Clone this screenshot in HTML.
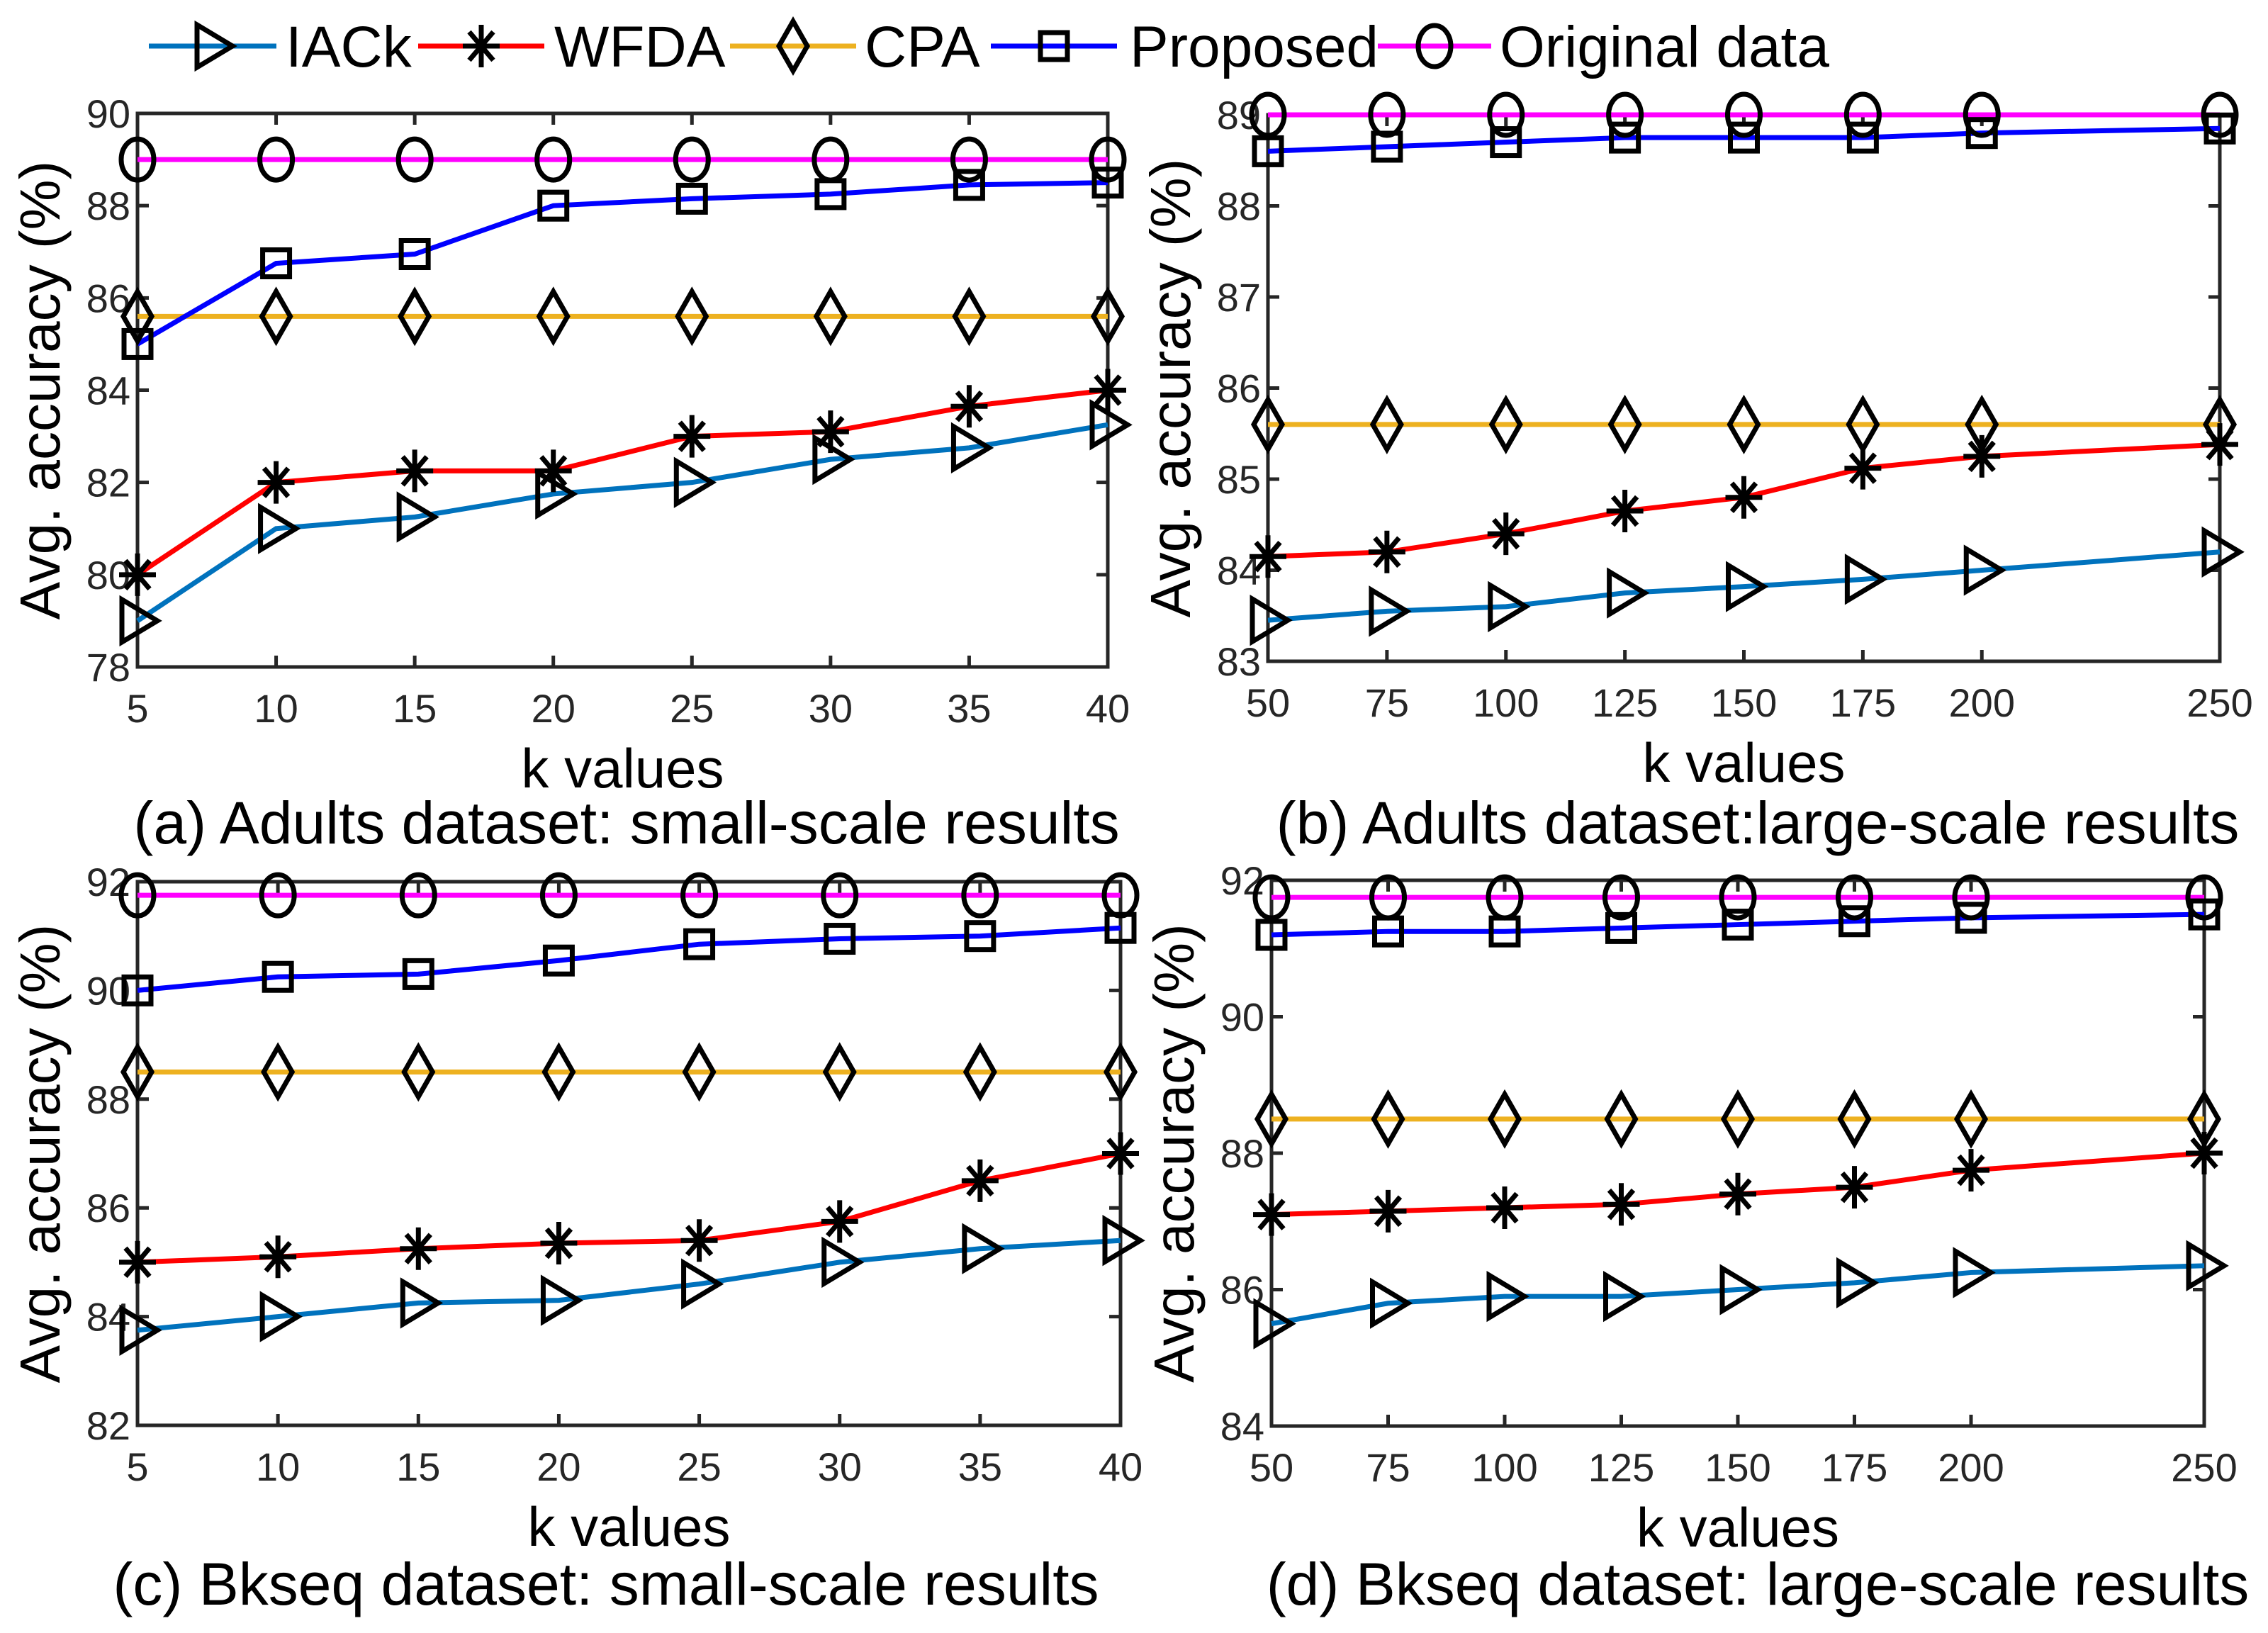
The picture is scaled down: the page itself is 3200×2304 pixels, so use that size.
<!DOCTYPE html>
<html><head><meta charset="utf-8"><style>
html,body{margin:0;padding:0;background:#fff}
svg{display:block}
text{font-family:"Liberation Sans",sans-serif}
</style></head><body>
<svg id="fig" width="3200" height="2304" viewBox="0 0 3200 2304" xmlns="http://www.w3.org/2000/svg">
<g id="legend"></g>
</svg>
<script>
// ---- data ----
const seriesNames = ["IACk","WFDA","CPA","Proposed","Original data"];
const kSmall = [5,10,15,20,25,30,35,40];
const kLarge = [50,75,100,125,150,175,200,250];
const aIACk = [79,81,81.25,81.75,82,82.5,82.75,83.25];
const aWFDA = [80,82,82.25,82.25,83,83.1,83.65,84];
const aCPA = [85.6,85.6,85.6,85.6,85.6,85.6,85.6,85.6];
const aProp = [85,86.75,86.95,88,88.15,88.25,88.45,88.5];
const aOrig = [89,89,89,89,89,89,89,89];
const bIACk = [83.45,83.55,83.6,83.75,83.82,83.9,84.0,84.2];
const bWFDA = [84.15,84.2,84.4,84.65,84.8,85.12,85.25,85.38];
const bCPA = [85.6,85.6,85.6,85.6,85.6,85.6,85.6,85.6];
const bProp = [88.6,88.65,88.7,88.75,88.75,88.75,88.8,88.85];
const bOrig = [89,89,89,89,89,89,89,89];
const cIACk = [83.75,84,84.25,84.3,84.6,85,85.25,85.4];
const cWFDA = [85,85.1,85.25,85.35,85.4,85.75,86.5,87];
const cCPA = [88.5,88.5,88.5,88.5,88.5,88.5,88.5,88.5];
const cProp = [90,90.25,90.3,90.55,90.85,90.95,91,91.15];
const cOrig = [91.75,91.75,91.75,91.75,91.75,91.75,91.75,91.75];
const dIACk = [85.5,85.8,85.9,85.9,86,86.1,86.25,86.35];
const dWFDA = [87.1,87.15,87.2,87.25,87.4,87.5,87.75,88];
const dCPA = [88.5,88.5,88.5,88.5,88.5,88.5,88.5,88.5];
const dProp = [91.2,91.25,91.25,91.3,91.35,91.4,91.45,91.5];
const dOrig = [91.75,91.75,91.75,91.75,91.75,91.75,91.75,91.75];
const yTicksA = [78,80,82,84,86,88,90];
const yTicksB = [83,84,85,86,87,88,89];
const yTicksC = [82,84,86,88,90,92];
const yTicksD = [84,86,88,90,92];
const captions = ["(a) Adults dataset: small-scale results","(b) Adults dataset:large-scale results","(c) Bkseq dataset: small-scale results","(d) Bkseq dataset: large-scale results"];

const NS="http://www.w3.org/2000/svg";
const colors=["#0072BD","#FF0000","#EDB120","#0000FF","#FF00FF"];
const markers=["tri","star","diamond","square","circle"];
const svg=document.getElementById('fig');
function mk(tag,attrs,parent){const e=document.createElementNS(NS,tag);for(const k in attrs)e.setAttribute(k,attrs[k]);(parent||svg).appendChild(e);return e;}

function marker(g,type,x,y){
  const st={fill:"none",stroke:"#000","stroke-width":7};
  let e;
  if(type==="tri"){e=mk('polygon',Object.assign({points:`${x-22},${y-30} ${x+28},${y} ${x-22},${y+30}`},st),g);}
  else if(type==="star"){e=mk('path',Object.assign({d:`M${x-26},${y}H${x+26}M${x},${y-30}V${y+30}M${x-17},${y-20}L${x+17},${y+20}M${x-17},${y+20}L${x+17},${y-20}`},st),g);}
  else if(type==="diamond"){e=mk('polygon',Object.assign({points:`${x},${y-35} ${x+20},${y} ${x},${y+35} ${x-20},${y}`},st),g);}
  else if(type==="square"){e=mk('rect',Object.assign({x:x-19,y:y-19,width:38,height:38},st),g);}
  else {e=mk('ellipse',Object.assign({cx:x,cy:y,rx:23,ry:29},st),g);}
  
  
}

function panel(id,box,xs,xmin,xmax,yticks,series,caption,capX,capY){
  const g=mk('g',{});
  
  
  const [L,T,R,B]=box;
  const ymin=yticks[0],ymax=yticks[yticks.length-1];
  const sx=v=>L+(v-xmin)/(xmax-xmin)*(R-L);
  const sy=v=>B-(v-ymin)/(ymax-ymin)*(B-T);
  const fr=mk('rect',{x:L,y:T,width:R-L,height:B-T,fill:"none",stroke:"#262626","stroke-width":5},g);
  
  
  xs.forEach(v=>{
    const x=sx(v);
    mk('path',{d:`M${x},${B}V${B-16}M${x},${T}V${T+16}`,stroke:"#262626","stroke-width":5},g);
    const t=mk('text',{x:x,y:B+78,"text-anchor":"middle","font-size":56,fill:"#262626"},g);
    t.textContent=v;
    
    
  });
  yticks.forEach(v=>{
    const y=sy(v);
    mk('path',{d:`M${L},${y}H${L+16}M${R},${y}H${R-16}`,stroke:"#262626","stroke-width":5},g);
    const t=mk('text',{x:L-10,y:y+20,"text-anchor":"end","font-size":56,fill:"#262626"},g);
    t.textContent=v;
    
    
  });
  series.forEach((vals,i)=>{
    const pts=vals.map((v,j)=>sx(xs[j])+','+sy(v)).join(' ');
    const pl=mk('polyline',{points:pts,fill:"none",stroke:colors[i],"stroke-width":7},g);
    
    
  });
  series.forEach((vals,i)=>{
    vals.forEach((v,j)=>marker(g,markers[i],sx(xs[j]),sy(v)));
  });
  const xl=mk('text',{x:(L+R)/2,y:B+170,"text-anchor":"middle","font-size":78,fill:"#000"},g);
  xl.textContent="k values";
  
  
  const yx=L-110, yc=(T+B)/2;
  const yl=mk('text',{x:yx,y:yc,"text-anchor":"middle","font-size":80,fill:"#000",transform:`rotate(-90 ${yx} ${yc})`},g);
  yl.textContent="Avg. accuracy (%)";
  
  
  const cp=mk('text',{x:capX,y:capY,"text-anchor":"middle","font-size":84,fill:"#000"},g);
  cp.textContent=caption;
  
  
}

panel('a',[194,160,1563,941],kSmall,5,40,yTicksA,[aIACk,aWFDA,aCPA,aProp,aOrig],captions[0],884,1190);
panel('b',[1789,162,3132,933],kLarge,50,250,yTicksB,[bIACk,bWFDA,bCPA,bProp,bOrig],captions[1],2480,1190);
panel('c',[194,1244,1581,2011],kSmall,5,40,yTicksC,[cIACk,cWFDA,cCPA,cProp,cOrig],captions[2],855,2264);
panel('d',[1794,1242,3110,2012],kLarge,50,250,yTicksD,[dIACk,dWFDA,dCPA,dProp,dOrig],captions[3],2480,2264);

// legend
const leg=document.getElementById('legend');
const legLines=[[210,390],[590,768],[1030,1208],[1398,1576],[1944,2104]];
const legText=[403,782,1220,1594,2116];
legLines.forEach((p,i)=>{
  const y=65;
  const l=mk('line',{x1:p[0],y1:y,x2:p[1],y2:y,stroke:colors[i],"stroke-width":7},leg);
  
  
  marker(leg,markers[i],(p[0]+p[1])/2,y);
  const t=mk('text',{x:legText[i],y:y+29,"font-size":82,fill:"#000"},leg);
  t.textContent=seriesNames[i];
  
  
});
</script>
</body></html>
